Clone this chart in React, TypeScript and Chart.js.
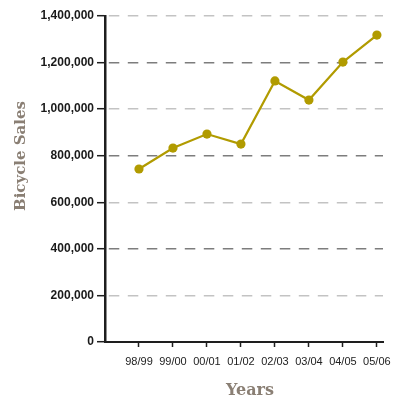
import React, { useEffect, useRef } from "react";
import { Chart, registerables } from "chart.js";

Chart.register(...registerables);

const categories = ["98/99", "99/00", "00/01", "01/02", "02/03", "03/04", "04/05", "05/06"];
const sales = [743000, 833000, 893000, 850000, 1121000, 1039000, 1202000, 1318000];
const yMin = 0;
const yMax = 1400000;
const yStep = 200000;
const yTitle = "Bicycle Sales";
const xTitle = "Years";

const LINE_COLOR = "#b19b00";
const AXIS_COLOR = "#1e1e1e";
const TITLE_COLOR = "#8a7f74";
const TITLE_FONT = "bold 15px 'DejaVu Serif', serif";
const XTITLE_FONT = "bold 16px 'DejaVu Serif', serif";

const axisTitlePlugin = {
  id: "axisTitlePlugin",
  afterDraw(chart: any) {
    const { ctx, chartArea } = chart;
    ctx.save();
    ctx.fillStyle = TITLE_COLOR;
    ctx.textAlign = "center";
    ctx.textBaseline = "middle";
    // y title
    ctx.save();
    ctx.font = TITLE_FONT;
    ctx.translate(21.5, chartArea.top + 140);
    ctx.rotate(-Math.PI / 2);
    ctx.fillText(yTitle, 0, 0);
    ctx.restore();
    // x title
    ctx.font = XTITLE_FONT;
    ctx.fillText(xTitle, (chartArea.left + chartArea.right) / 2 + 6, chart.height - 9.5);
    ctx.restore();
  },
};

export default function App() {
  const ref = useRef<HTMLCanvasElement | null>(null);

  useEffect(() => {
    if (!ref.current) return;
    const chart = new Chart(ref.current, {
      type: "line",
      data: {
        datasets: [
          {
            data: sales.map((v, i) => ({ x: i + 1, y: v })),
            borderColor: LINE_COLOR,
            backgroundColor: LINE_COLOR,
            borderWidth: 2.2,
            pointRadius: 4.6,
            pointBorderWidth: 0,
            pointBackgroundColor: LINE_COLOR,
            tension: 0,
          },
        ],
      },
      options: {
        animation: false,
        responsive: true,
        maintainAspectRatio: false,
        layout: { padding: { top: 16, right: 20, left: 0, bottom: 0 } },
        plugins: { legend: { display: false }, tooltip: { enabled: false } },
        scales: {
          x: {
            type: "linear",
            min: 0,
            max: categories.length + 0.18,
            afterBuildTicks: (scale: any) => {
              scale.ticks = categories.map((_, i) => ({ value: i + 1 }));
            },
            afterFit: (scale: any) => {
              scale.height = 58;
            },
            ticks: {
              autoSkip: false,
              maxRotation: 0,
              padding: 8,
              color: "#222",
              font: { family: "'Liberation Sans', Arial, sans-serif", size: 11 },
              callback: (v: any) => categories[Number(v) - 1] ?? "",
            },
            grid: {
              drawOnChartArea: false,
              drawTicks: true,
              tickLength: 5,
              tickColor: AXIS_COLOR,
              tickWidth: 1.5,
              color: AXIS_COLOR,
            },
            border: { display: true, color: AXIS_COLOR, width: 2 },
          },
          y: {
            min: yMin,
            max: yMax,
            afterFit: (scale: any) => {
              scale.width = 105;
            },
            ticks: {
              stepSize: yStep,
              padding: 3,
              color: "#1a1a1a",
              font: { family: "'Liberation Sans', Arial, sans-serif", size: 12, weight: "bold" },
              callback: (v: any) => Number(v).toLocaleString("en-US"),
            },
            grid: {
              drawTicks: true,
              tickLength: 8,
              tickColor: AXIS_COLOR,
              tickWidth: 1.5,
              lineWidth: 1.4,
              color: (c: any) => {
                const idx = Math.round((c.tick?.value ?? 0) / yStep);
                return idx % 2 === 1 ? "#c3c3c3" : "#7d7d7d";
              },
            },
            border: { display: true, color: AXIS_COLOR, width: 2.5, dash: [10.5, 8.5], dashOffset: 16.7 },
          },
        },
      },
      plugins: [axisTitlePlugin],
    });
    return () => chart.destroy();
  }, []);

  return (
    <div style={{ position: "absolute", left: 0, top: 0, width: 403, height: 400 }}>
      <canvas ref={ref} />
    </div>
  );
}
